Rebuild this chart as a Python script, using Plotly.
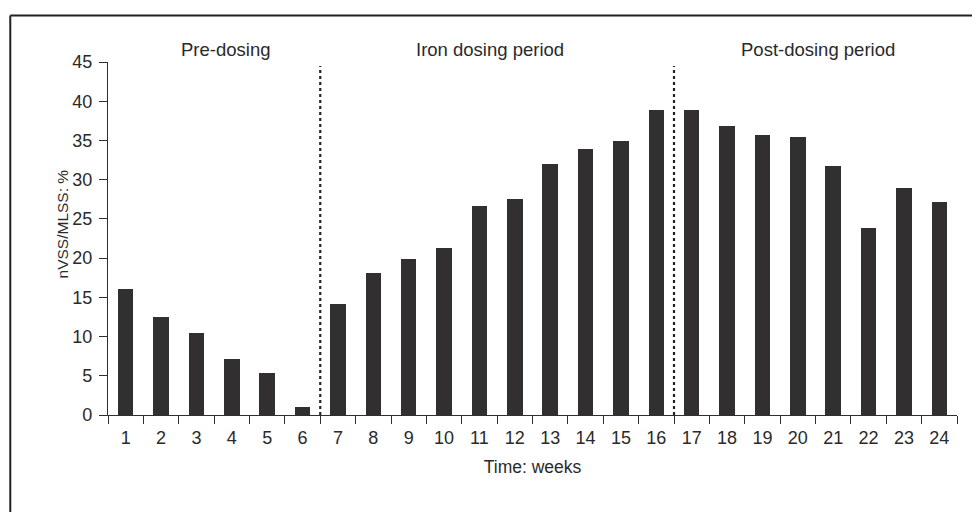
import plotly.graph_objects as go

weeks = [str(i) for i in range(1, 25)]
values = [16.1, 12.5, 10.4, 7.1, 5.4, 1.0, 14.2, 18.1, 19.9, 21.3, 26.7, 27.5,
          32.0, 33.9, 34.9, 38.9, 38.9, 36.9, 35.7, 35.4, 31.8, 23.9, 28.9, 27.1]
period_labels = ["Pre-dosing", "Iron dosing period", "Post-dosing period"]
period_label_pos = [0.1382, 0.4503, 0.8366]
period_bounds = [5.5, 15.5]
y_title = "nVSS/MLSS: %"
x_title = "Time: weeks"

FONT = "Liberation Sans, Arial, sans-serif"
TXT = "#2a2a2a"
LINE = "#2f2f2f"

fig = go.Figure(go.Bar(x=weeks, y=values, width=0.44,
                       marker=dict(color="#312f30", line=dict(width=0))))

shapes = []
for b in period_bounds:
    shapes.append(dict(type="line", xref="x", yref="y", x0=b, x1=b, y0=0, y1=44.5,
                       line=dict(color="#222", width=2.2, dash="dot")))
# outer frame (top and left edges visible)
shapes.append(dict(type="line", xref="paper", yref="paper", x0=-0.1151, x1=1.1, y0=1.1318, y1=1.1318,
                   line=dict(color="#222", width=2)))
shapes.append(dict(type="line", xref="paper", yref="paper", x0=-0.1151, x1=-0.1151, y0=1.1318, y1=-0.35,
                   line=dict(color="#222", width=2)))

annotations = [dict(x=p, y=1.034, xref="paper", yref="paper", text=t, showarrow=False,
                    font=dict(family=FONT, size=18.5, color=TXT), yanchor="middle", xanchor="center")
               for t, p in zip(period_labels, period_label_pos)]
annotations.append(dict(x=-0.0538, y=0.5407, xref="paper", yref="paper", text=y_title,
                        textangle=-90, showarrow=False, xanchor="center", yanchor="middle",
                        font=dict(family=FONT, size=15.5, color=TXT)))

# page body has an 8px margin; compensate so the plot lands where the reference has it
fig.update_layout(
    width=972, height=504,
    margin=dict(l=100, r=23, t=54, b=97),
    plot_bgcolor="white", paper_bgcolor="white",
    showlegend=False, bargap=0,
    font=dict(family=FONT, size=18, color=TXT),
    shapes=shapes, annotations=annotations,
    xaxis=dict(type="category", tickson="boundaries", ticks="outside", ticklen=8,
               tickwidth=1.3, tickcolor=LINE, showline=True, linecolor=LINE, linewidth=1.3,
               showgrid=False, zeroline=False, range=[-0.5, 23.5], ticklabelstandoff=6,
               tickfont=dict(family=FONT, size=18, color=TXT),
               title=dict(text=x_title, font=dict(family=FONT, size=17.5, color=TXT), standoff=13)),
    yaxis=dict(range=[0, 45], dtick=5, tick0=0, ticks="outside", ticklen=8,
               tickwidth=1.3, tickcolor=LINE, showline=True, linecolor=LINE, linewidth=1.3,
               showgrid=False, zeroline=False, ticklabelstandoff=3,
               tickfont=dict(family=FONT, size=18, color=TXT)),
)

fig.write_html("out.html")
